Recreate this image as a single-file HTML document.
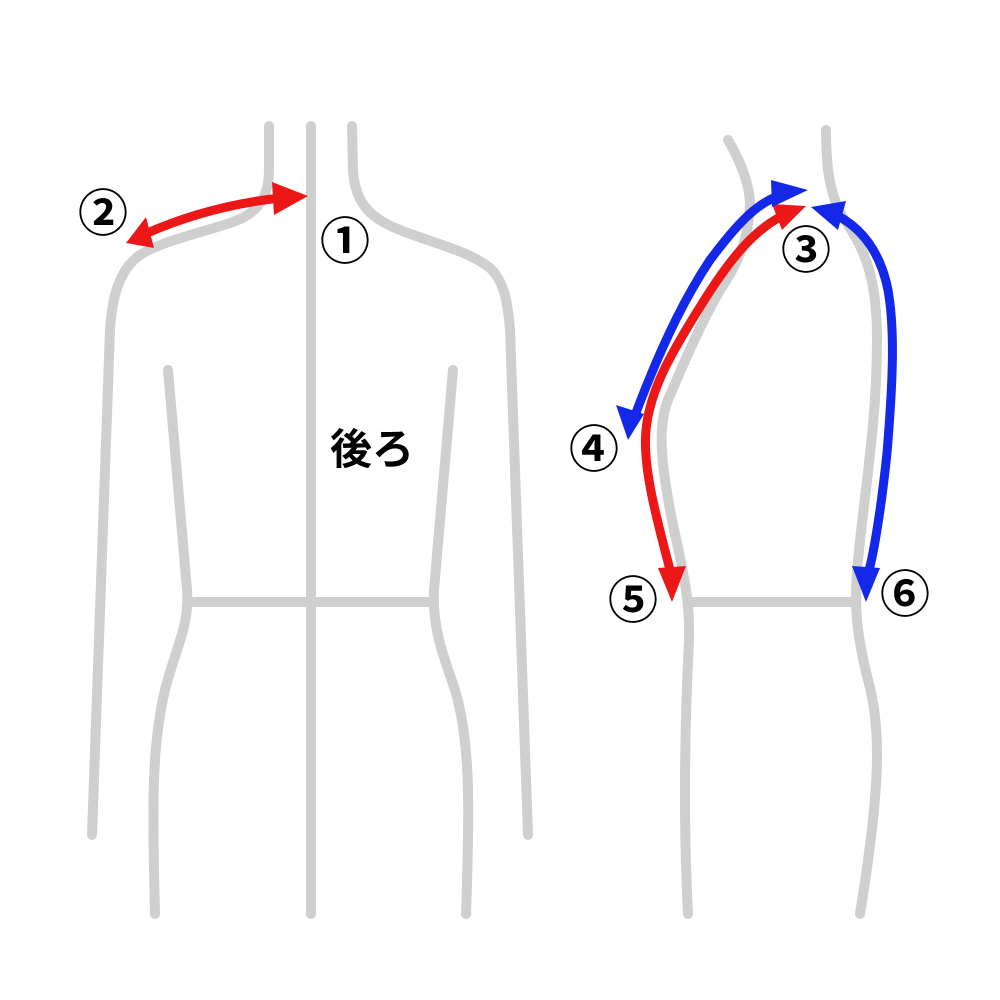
<!DOCTYPE html>
<html><head><meta charset="utf-8"><style>html,body{margin:0;padding:0;background:#fff}svg{display:block}</style></head>
<body>
<svg width="1000" height="1000" viewBox="0 0 1000 1000" xmlns="http://www.w3.org/2000/svg">
<g fill="none" stroke="#cfcfcf" stroke-width="10" stroke-linecap="round" stroke-linejoin="round">
<line x1="311" y1="126" x2="311" y2="914"/>
<path d="M269 126 L269 170 C269 200 255 215 230 223 C190 236 160 242 140 255 C118 270 112 300 110 330 L92 835"/>
<path d="M352 126 L353 170 C355 205 372 220 405 232 C440 245 470 252 490 268 C505 282 508 305 510 330 L528 835"/>
<path d="M168 370 L187 590 C190 625 175 650 165 690 C152 745 152 800 155 914"/>
<path d="M453 370 L434 590 C432 630 445 660 455 690 C470 740 470 800 466 914"/>
<line x1="190" y1="602" x2="432" y2="602"/>
<path d="M728 140 C740 160 750 185 750 205 C748 240 740 260 720 290 C700 325 685 360 668 400 C658 425 660 460 672 520 C684 575 690 600 689 640 C686 700 682 800 688 914"/>
<path d="M826 130 C826 170 830 200 848 225 C870 258 877 290 877 340 C877 420 866 480 858 560 C853 610 858 640 868 680 C882 730 880 790 860 914"/>
<line x1="690" y1="602" x2="855" y2="602"/>
</g>
<g fill="none" stroke-width="9" stroke-linecap="butt">
<path d="M145 234 C190 214 235 203 280 198" stroke="#ec1717"/>
<path d="M790 212 C760 225 735 250 700 307 C670 355 650 390 646 430 C642 470 660 530 670 570" stroke="#ec1717"/>
<path d="M785 194 C760 200 740 220 710 260 C690 290 665 335 634 418" stroke="#1428ea"/>
<path d="M830 212 C860 225 880 250 888 290 C895 330 893 380 887 453 C880 520 872 560 869 570" stroke="#1428ea"/>
</g>
<g stroke="none">
<polygon points="126,243 146,217 154,248" fill="#ec1717"/>
<polygon points="308,196 272,182 274,215" fill="#ec1717"/>
<polygon points="806,206 772,204 782,230" fill="#ec1717"/>
<polygon points="672,602 658,568 686,566" fill="#ec1717"/>
<polygon points="808,190 771,180 772,207" fill="#1428ea"/>
<polygon points="628,440 616,405 644,414" fill="#1428ea"/>
<polygon points="811,207 846,201 838,230" fill="#1428ea"/>
<polygon points="866,602 852,566 880,568" fill="#1428ea"/>
</g>
<g font-family="'Noto Sans CJK JP',sans-serif" font-size="50" font-weight="bold" fill="#000" text-anchor="middle">
<text x="103" y="231">②</text>
<text x="345" y="259">①</text>
<text x="806" y="268">③</text>
<text x="594" y="467">④</text>
<text x="633" y="618">⑤</text>
<text x="905" y="612">⑥</text>
<text x="372" y="464" font-size="42">後ろ</text>
</g>
</svg>
</body></html>
